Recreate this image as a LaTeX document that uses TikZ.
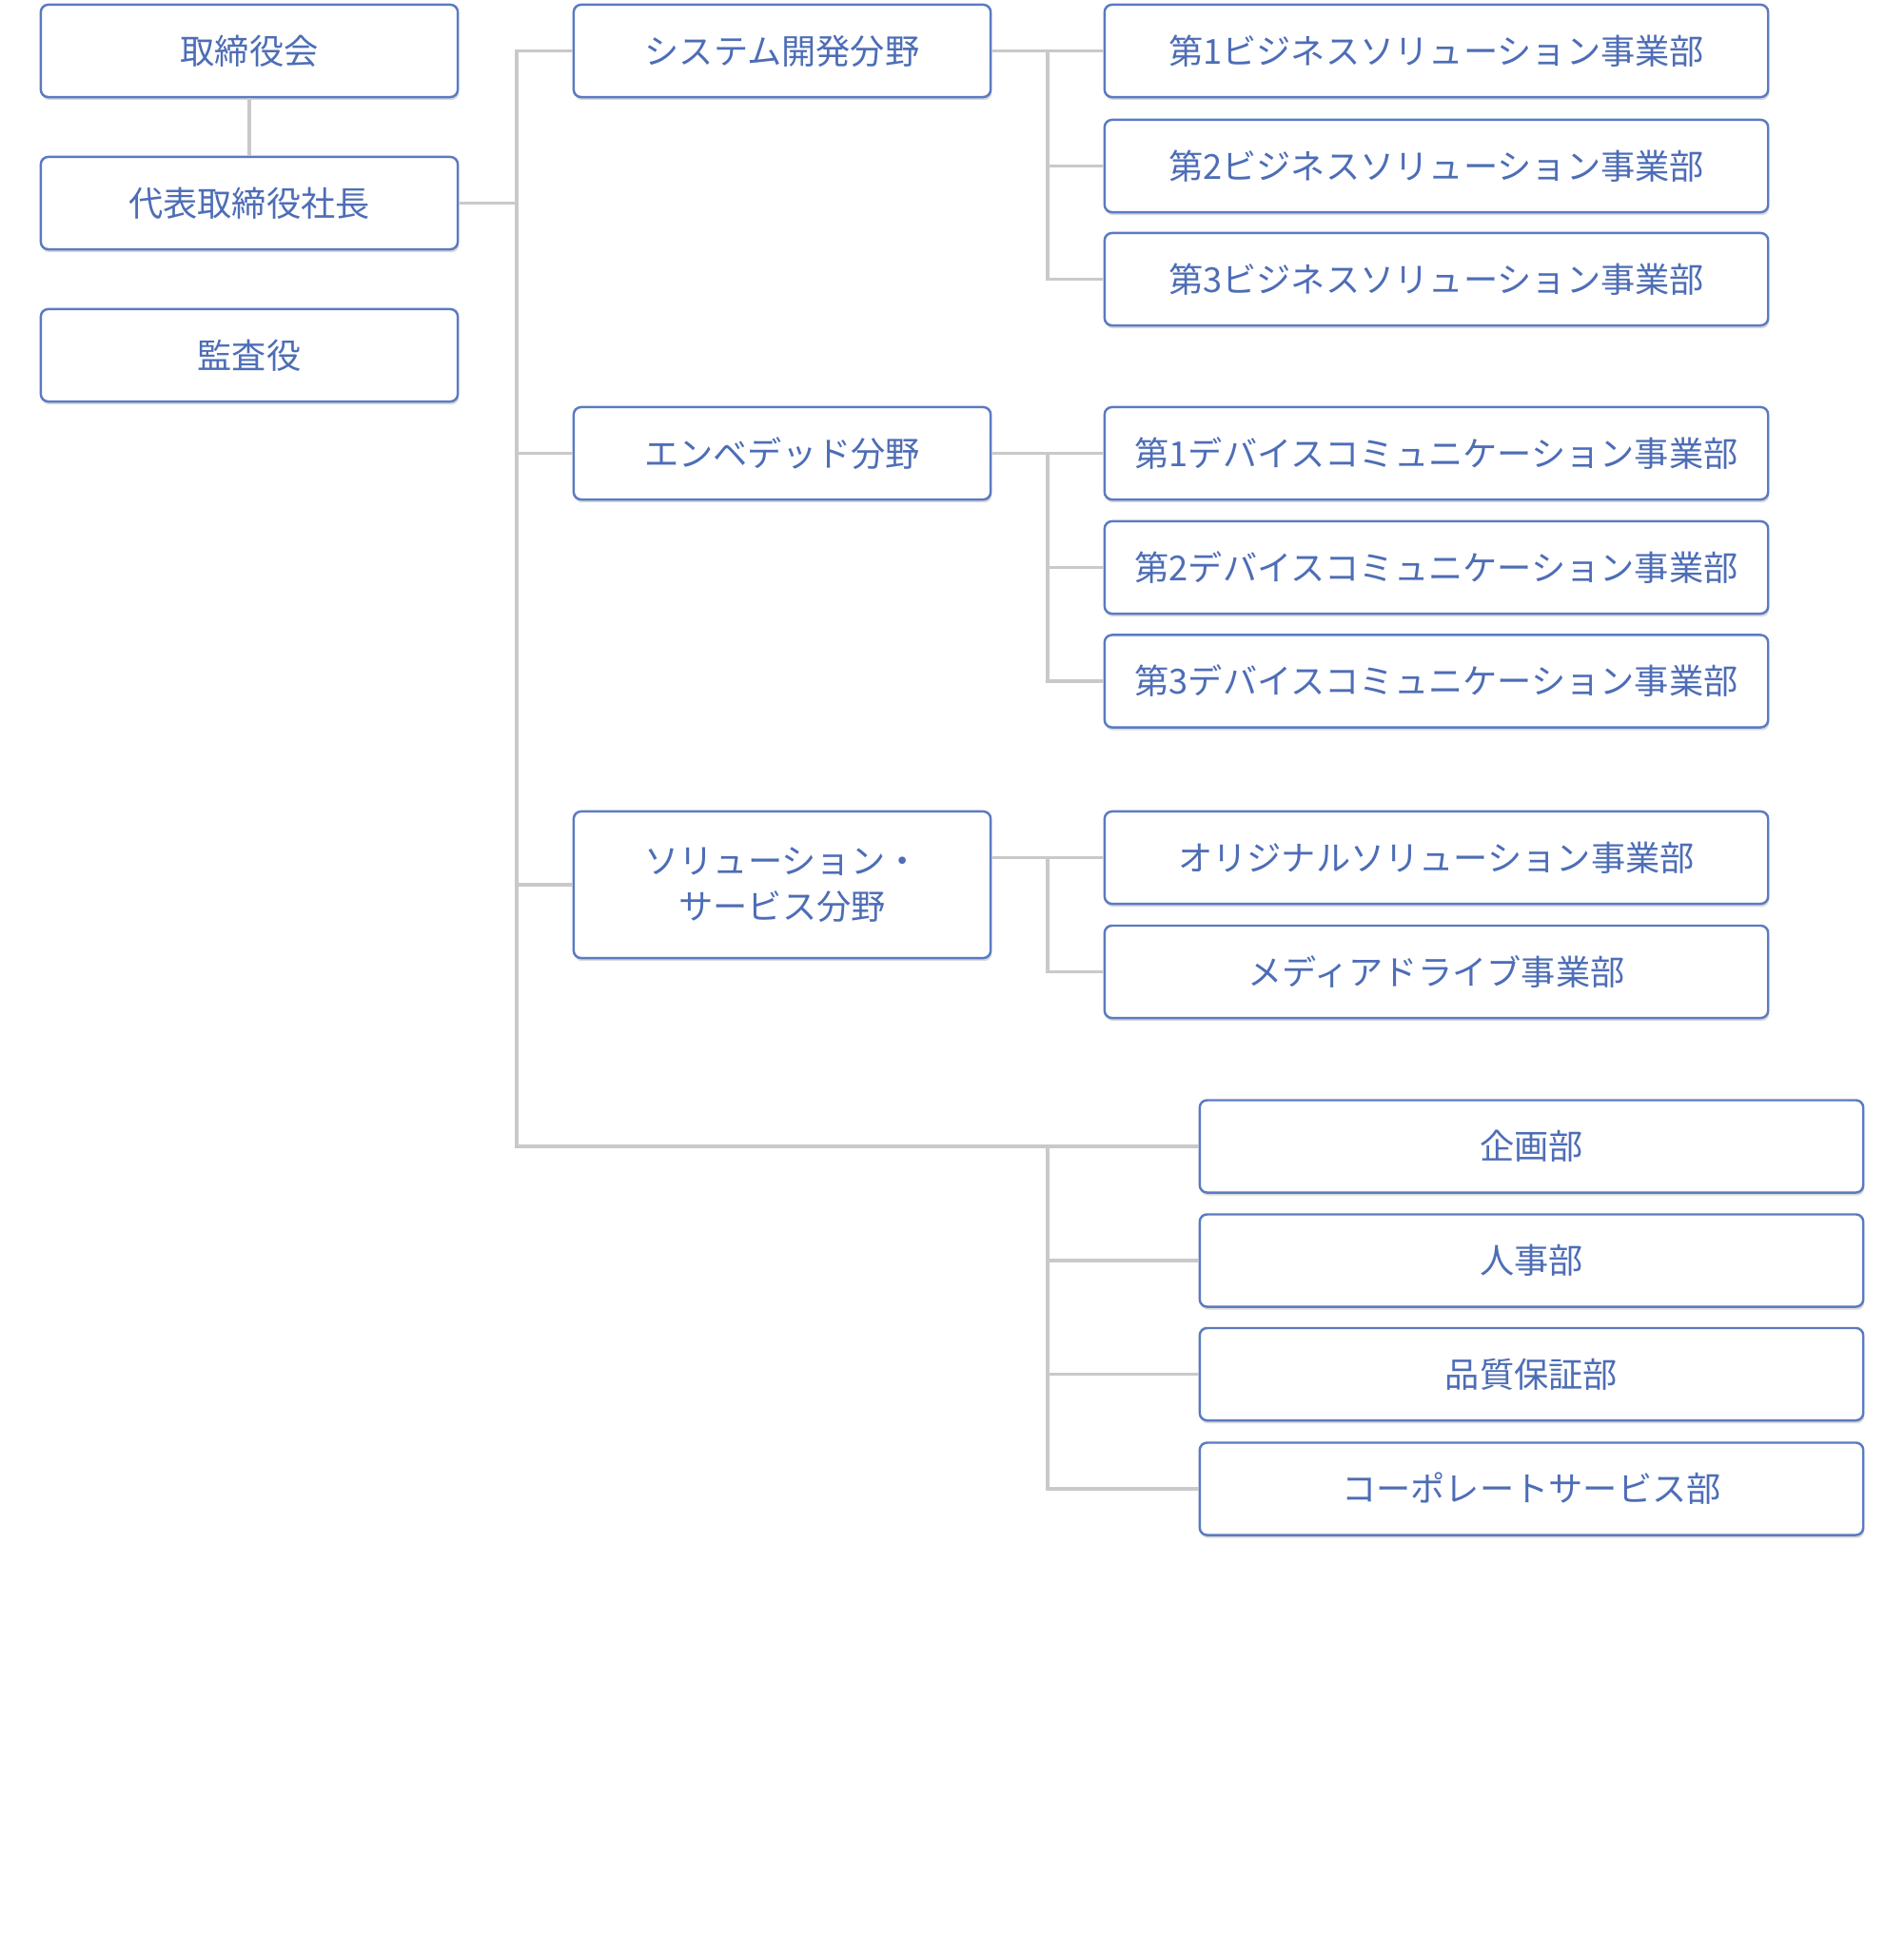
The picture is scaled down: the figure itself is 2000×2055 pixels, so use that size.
\documentclass[tikz,border=0pt]{standalone}
\usepackage{fontspec}
\setmainfont{Noto Sans CJK JP}
\usetikzlibrary{shadows}
\definecolor{orgblue}{HTML}{5A7BC2}
\definecolor{orgtext}{HTML}{4D6DB6}
\definecolor{orgline}{HTML}{C9C9C9}
\begin{document}
\begin{tikzpicture}[x=0.01cm, y=-0.01cm,
  unit/.style={draw=orgblue, line width=0.7pt, fill=white, rounded corners=2.2pt,
    text=orgtext, font=\fontsize{10.3}{13.6}\selectfont, align=center,
    minimum height=0.97cm, inner sep=0pt,
    drop shadow={shadow xshift=0.3pt, shadow yshift=-0.9pt, fill=black!25, opacity=0.6}},
  narrow/.style={unit, minimum width=4.38cm},
  wide/.style={unit, minimum width=6.97cm},
  conn/.style={draw=orgline, line width=1.1pt}]
  \useasboundingbox (0,0) rectangle (2000,2055);
  \coordinate (spine) at (543,0);
  \coordinate (sub) at (1101,0);
  % top management
  \node[narrow] (board) at (262,53.5) {取締役会};
  \node[narrow] (pres) at (262,213.5) {代表取締役社長};
  \node[narrow] (audit) at (262,373.5) {監査役};
  % fields
  \node[narrow] (sys) at (822,53.5) {システム開発分野};
  \node[narrow] (emb) at (822,476.5) {エンベデッド分野};
  \node[narrow, minimum height=1.54cm] (sol) at (822,930) {ソリューション・\\サービス分野};
  % divisions
  \node[wide] (bs1) at (1509.5,53.5) {第1ビジネスソリューション事業部};
  \node[wide] (bs2) at (1509.5,174.5) {第2ビジネスソリューション事業部};
  \node[wide] (bs3) at (1509.5,293.5) {第3ビジネスソリューション事業部};
  \node[wide] (dc1) at (1509.5,476.5) {第1デバイスコミュニケーション事業部};
  \node[wide] (dc2) at (1509.5,596.5) {第2デバイスコミュニケーション事業部};
  \node[wide] (dc3) at (1509.5,716) {第3デバイスコミュニケーション事業部};
  \node[wide] (orig) at (1509.5,901.5) {オリジナルソリューション事業部};
  \node[wide] (media) at (1509.5,1021.5) {メディアドライブ事業部};
  % staff departments
  \node[wide] (plan) at (1609.5,1205) {企画部};
  \node[wide] (hr) at (1609.5,1325) {人事部};
  \node[wide] (qa) at (1609.5,1444.5) {品質保証部};
  \node[wide] (corp) at (1609.5,1565) {コーポレートサービス部};
  % connectors
  \draw[conn] (board) -- (pres);
  \draw[conn] (sys.west) -- (sys.west -| spine) -- (spine |- plan.west) -- (plan.west);
  \foreach \n in {pres} \draw[conn] (\n.east) -- (\n.east -| spine);
  \foreach \n in {emb, sol} \draw[conn] (\n.west) -- (\n.west -| spine);
  \draw[conn] (sys.east) -- (bs1.west);
  \foreach \n in {bs2, bs3} \draw[conn] (bs1.west -| sub) |- (\n.west);
  \draw[conn] (emb.east) -- (dc1.west);
  \foreach \n in {dc2, dc3} \draw[conn] (dc1.west -| sub) |- (\n.west);
  \draw[conn] (sol.east |- orig.west) -- (orig.west);
  \draw[conn] (orig.west -| sub) |- (media.west);
  \foreach \n in {hr, qa, corp} \draw[conn] (plan.west -| sub) |- (\n.west);
\end{tikzpicture}
\end{document}
